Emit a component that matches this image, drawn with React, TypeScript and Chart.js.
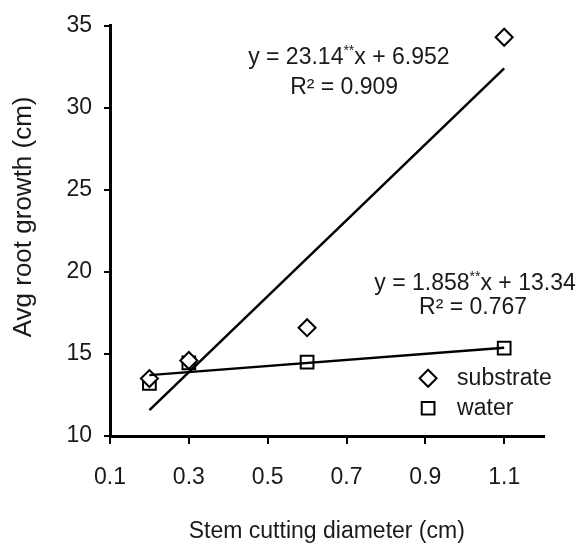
import React, { useEffect, useRef } from 'react';
import { Chart, registerables } from 'chart.js';

Chart.register(...registerables);

// ---- data ----
const diameters = [0.2, 0.3, 0.6, 1.1];
const substrateGrowth = [13.5, 14.6, 16.6, 34.3];
const waterGrowth = [13.2, 14.45, 14.5, 15.35];
const trendX = [0.2, 1.1];
const substrateTrend = [11.58, 32.41];
const waterTrend = [13.71, 15.38];
const xTicks = [0.1, 0.3, 0.5, 0.7, 0.9, 1.1];
const yTicks = [10, 15, 20, 25, 30, 35];
const seriesLabels = ['substrate', 'water'];
const xTitle = 'Stem cutting diameter (cm)';
const yTitle = 'Avg root growth (cm)';
const equationTexts = [
  [['y = 23.14', false], ['**', true], ['x + 6.952', false]],
  [['R² = 0.909', false]],
  [['y = 1.858', false], ['**', true], ['x + 13.34', false]],
  [['R² = 0.767', false]],
] as [string, boolean][][];

// ---- styling / placement ----
const FONT = "'Liberation Sans', Arial, Helvetica, sans-serif";
const TEXT = '#1a1a1a';
const equationAnchors = [
  { x: 0.706, y: 33.06 },
  { x: 0.694, y: 31.24 },
  { x: 1.026, y: 19.28 },
  { x: 1.021, y: 17.83 },
];
const legendAnchor = { x: 0.907, y: 13.52, rowGap: 30, textGap: 29 };

function drawMarker(ctx: CanvasRenderingContext2D, style: string, x: number, y: number, r: number) {
  ctx.beginPath();
  if (style === 'rectRot') {
    ctx.moveTo(x, y - r);
    ctx.lineTo(x + r, y);
    ctx.lineTo(x, y + r);
    ctx.lineTo(x - r, y);
    ctx.closePath();
  } else {
    const s = r * Math.SQRT1_2;
    ctx.rect(x - s, y - s, 2 * s, 2 * s);
  }
  ctx.fillStyle = '#fff';
  ctx.fill();
  ctx.lineWidth = 2;
  ctx.strokeStyle = '#000';
  ctx.stroke();
}

function drawRich(ctx: CanvasRenderingContext2D, parts: [string, boolean][], cx: number, cy: number, size: number) {
  const supSize = Math.round(size * 0.6);
  let total = 0;
  const widths = parts.map(([t, sup]) => {
    ctx.font = `${sup ? supSize : size}px ${FONT}`;
    const w = ctx.measureText(t).width;
    total += w;
    return w;
  });
  let x = cx - total / 2;
  ctx.textAlign = 'left';
  ctx.textBaseline = 'middle';
  ctx.fillStyle = TEXT;
  parts.forEach(([t, sup], i) => {
    ctx.font = `${sup ? supSize : size}px ${FONT}`;
    ctx.fillText(t, x, sup ? cy - size * 0.28 : cy);
    x += widths[i];
  });
}

const overlayPlugin = {
  id: 'overlay',
  afterDraw(chart: any) {
    const ctx: CanvasRenderingContext2D = chart.ctx;
    const xs = chart.scales.x;
    const ys = chart.scales.y;
    const area = chart.chartArea;
    ctx.save();
    // equations
    equationTexts.forEach((parts, i) => {
      const a = equationAnchors[i];
      drawRich(ctx, parts, xs.getPixelForValue(a.x), ys.getPixelForValue(a.y), 23);
    });
    // legend
    const lx = xs.getPixelForValue(legendAnchor.x);
    const ly = ys.getPixelForValue(legendAnchor.y);
    const metas = [chart.data.datasets[0], chart.data.datasets[1]];
    metas.forEach((ds: any, i: number) => {
      const y = ly + i * legendAnchor.rowGap;
      drawMarker(ctx, ds.pointStyle, lx, y, ds.pointRadius);
      ctx.font = `23px ${FONT}`;
      ctx.fillStyle = TEXT;
      ctx.textAlign = 'left';
      ctx.textBaseline = 'middle';
      ctx.fillText(ds.label, lx + legendAnchor.textGap, y);
    });
    // y axis title
    ctx.translate(24, (area.top + area.bottom) / 2 - 14);
    ctx.rotate(-Math.PI / 2);
    ctx.font = `26px ${FONT}`;
    ctx.fillStyle = TEXT;
    ctx.textAlign = 'center';
    ctx.textBaseline = 'middle';
    ctx.fillText(yTitle, 0, 0);
    ctx.restore();
  },
};

export default function App() {
  const ref = useRef<HTMLCanvasElement | null>(null);

  useEffect(() => {
    if (!ref.current) return;
    const pts = (xs: number[], ys: number[]) => xs.map((x, i) => ({ x, y: ys[i] }));
    const chart = new Chart(ref.current, {
      type: 'scatter',
      data: {
        datasets: [
          {
            label: seriesLabels[0],
            data: pts(diameters, substrateGrowth),
            pointStyle: 'rectRot',
            pointRadius: 8.5,
            pointBackgroundColor: '#fff',
            pointBorderColor: '#000',
            pointBorderWidth: 2,
            order: 2,
          },
          {
            label: seriesLabels[1],
            data: pts(diameters, waterGrowth),
            pointStyle: 'rect',
            pointRadius: 9,
            pointBackgroundColor: '#fff',
            pointBorderColor: '#000',
            pointBorderWidth: 2,
            order: 2,
          },
          {
            label: 'substrate trend',
            data: pts(trendX, substrateTrend),
            showLine: true,
            pointRadius: 0,
            borderColor: '#000',
            borderWidth: 2.5,
            order: 0,
          },
          {
            label: 'water trend',
            data: pts(trendX, waterTrend),
            showLine: true,
            pointRadius: 0,
            borderColor: '#000',
            borderWidth: 2.5,
            order: 0,
          },
        ] as any,
      },
      options: {
        animation: false,
        responsive: false,
        events: [],
        layout: { padding: { left: 0, top: 24, right: 38.4, bottom: 0 } },
        plugins: { legend: { display: false }, tooltip: { enabled: false }, title: { display: false } },
        scales: {
          x: {
            type: 'linear',
            min: 0.1,
            max: 1.2,
            afterBuildTicks: (s: any) => { s.ticks = xTicks.map((v) => ({ value: v })); },
            afterFit: (s: any) => { s.height = 109; },
            ticks: {
              callback: (v: any) => Number(v).toFixed(1),
              font: { family: FONT, size: 23 },
              color: TEXT,
              padding: 20,
              maxRotation: 0,
              autoSkip: false,
            },
            grid: { display: true, drawOnChartArea: false, drawTicks: true, tickLength: 8, color: '#000', lineWidth: 2 },
            border: { display: true, color: '#000', width: 3 },
            title: { display: true, text: xTitle, font: { family: FONT, size: 23 }, color: TEXT, padding: { top: 0, bottom: 0 } },
          },
          y: {
            type: 'linear',
            min: 10,
            max: 35,
            afterBuildTicks: (s: any) => { s.ticks = yTicks.map((v) => ({ value: v })); },
            afterFit: (s: any) => { s.width = 110; },
            ticks: {
              callback: (v: any) => String(v),
              font: { family: FONT, size: 23 },
              color: TEXT,
              padding: 12,
              autoSkip: false,
            },
            grid: { display: true, drawOnChartArea: false, drawTicks: true, tickLength: 6, color: '#000', lineWidth: 2 },
            border: { display: true, color: '#000', width: 3 },
          },
        },
      } as any,
      plugins: [overlayPlugin],
    });
    return () => chart.destroy();
  }, []);

  return (
    <div style={{ position: 'fixed', left: 0, top: 0, width: 582, height: 545, background: '#fff' }}>
      <canvas ref={ref} width={582} height={545} style={{ display: 'block' }} />
    </div>
  );
}
